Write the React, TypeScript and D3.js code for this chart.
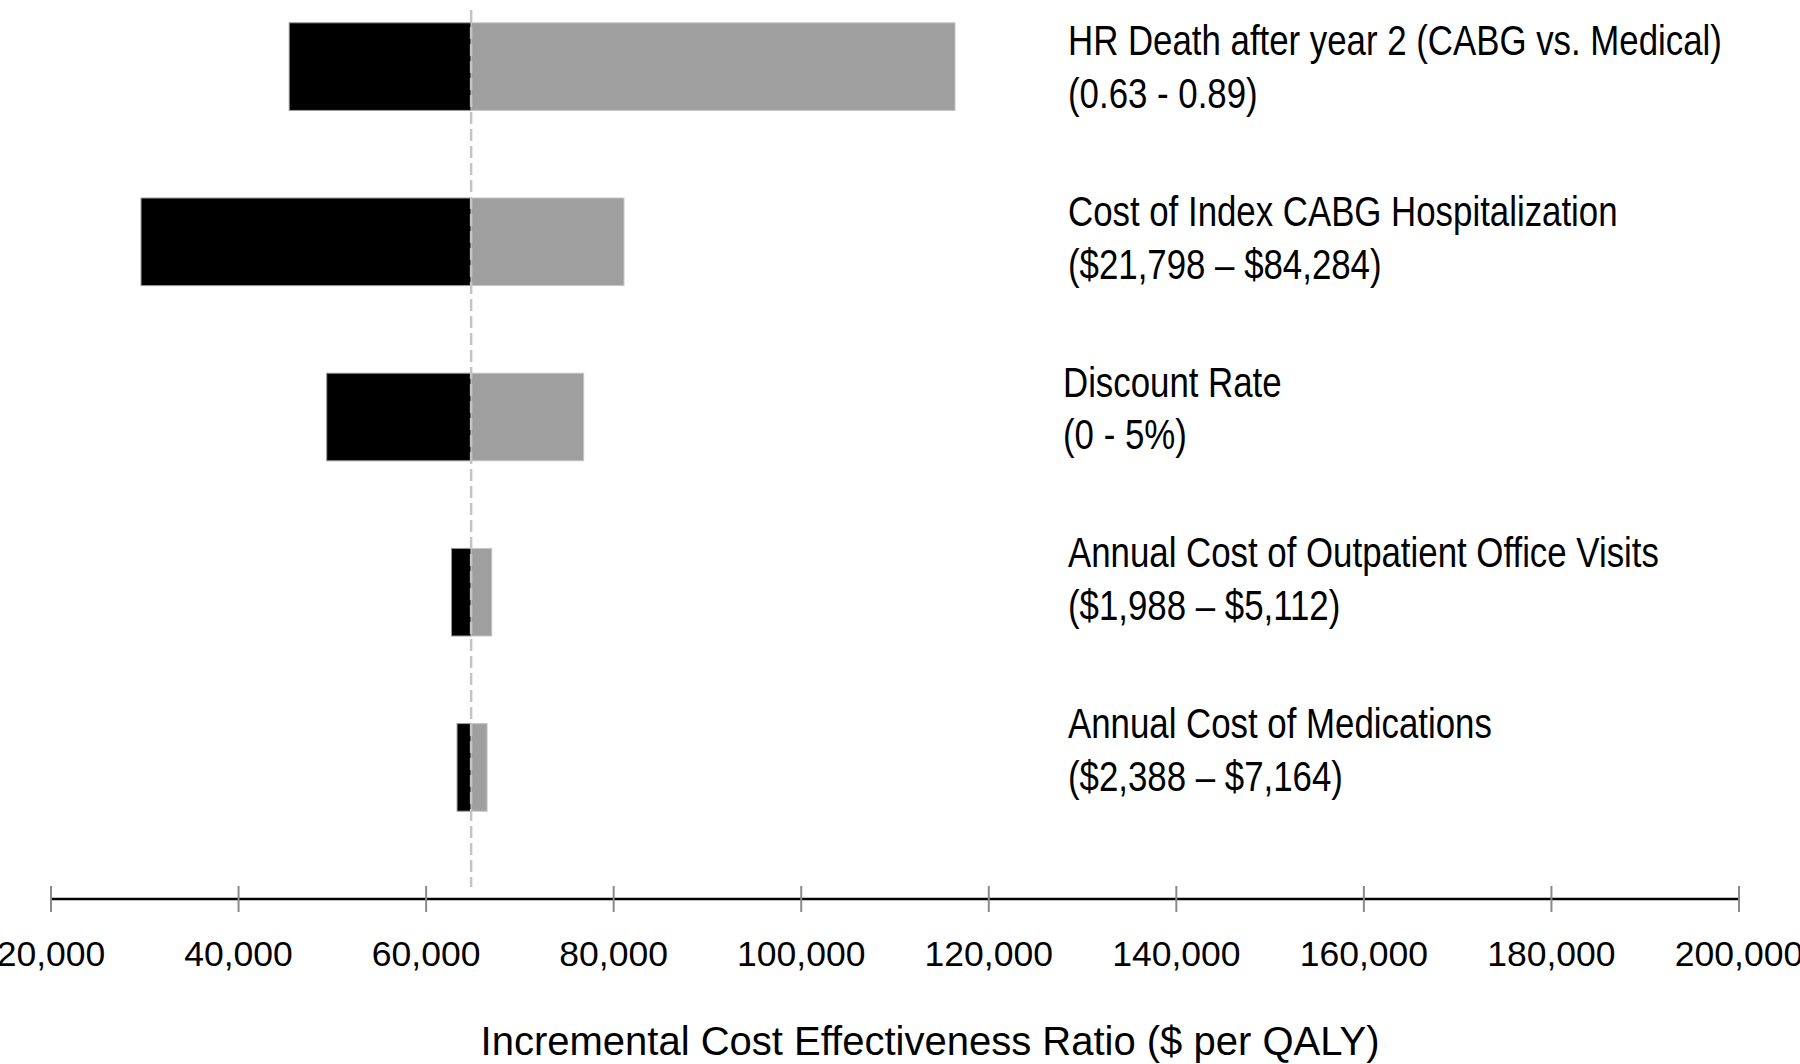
import React from "react";
import * as d3 from "d3";

const categories = ["hr", "cabg", "discount", "office", "meds"];
const labelLine1 = [
  "HR Death after year 2 (CABG vs. Medical)",
  "Cost of Index CABG Hospitalization",
  "Discount Rate",
  "Annual Cost of Outpatient Office Visits",
  "Annual Cost of Medications",
];
const labelLine2 = [
  "(0.63 - 0.89)",
  "($21,798 \u2013 $84,284)",
  "(0 - 5%)",
  "($1,988 \u2013 $5,112)",
  "($2,388 \u2013 $7,164)",
];
const baseValue = 64800;
const lowValues = [45400, 29600, 49400, 62700, 63300];
const highValues = [116400, 81100, 76800, 67000, 66500];
const tickValues = [20000, 40000, 60000, 80000, 100000, 120000, 140000, 160000, 180000, 200000];
const axisTitle = "Incremental Cost Effectiveness Ratio ($ per QALY)";

const W = 1800;
const H = 1064;
const FONT = "'Liberation Sans', Arial, Helvetica, sans-serif";

export default function App() {
  const x = d3.scaleLinear().domain([20000, 200000]).range([51, 1739]);
  const y = d3
    .scaleBand<string>()
    .domain(categories)
    .range([-21, 855])
    .paddingInner(0.5)
    .paddingOuter(0.25);
  const labelY = d3.scalePoint<string>().domain(categories).range([55, 738]);
  const fmt = d3.format(",");
  const axisY = 899;
  const xb = x(baseValue);

  return (
    <svg
      width={W}
      height={H}
      style={{ position: "absolute", left: 0, top: 0, background: "#fff" }}
      fontFamily={FONT}
    >
      <rect x={0} y={0} width={W} height={H} fill="#fff" />
      {categories.map((c, i) => {
        const y0 = y(c) as number;
        const bh = y.bandwidth();
        const xl = x(lowValues[i]);
        const xh = x(highValues[i]);
        return (
          <g key={c}>
            <rect x={xl} y={y0} width={xb - xl} height={bh} fill="#000" stroke="#9a9a9a" strokeWidth={1} />
            <rect x={xb} y={y0} width={xh - xb} height={bh} fill="#9f9f9f" stroke="#c6c6c6" strokeWidth={1} />
          </g>
        );
      })}
      <line
        x1={xb}
        x2={xb}
        y1={10}
        y2={887}
        stroke="#c4c4c4"
        strokeWidth={2.5}
        strokeDasharray="12,5"
      />
      {categories.map((c, i) => {
        const ly = labelY(c) as number;
        const lx = i === 2 ? 1063 : 1068;
        return (
          <g key={"l" + c} transform={`translate(${lx},${ly}) scale(0.81,1)`}>
            <text x={0} y={0} fontSize={43} fill="#000">
              {labelLine1[i]}
            </text>
            <text x={0} y={53} fontSize={43} fill="#000">
              {labelLine2[i]}
            </text>
          </g>
        );
      })}
      <line x1={x(20000)} x2={x(200000)} y1={axisY} y2={axisY} stroke="#000" strokeWidth={2.6} />
      {tickValues.map((t) => (
        <g key={t}>
          <line x1={x(t)} x2={x(t)} y1={axisY - 13} y2={axisY + 13} stroke="#8a8a8a" strokeWidth={2} />
          <text x={x(t)} y={966} fontSize={35.5} textAnchor="middle" fill="#000">
            {fmt(t)}
          </text>
        </g>
      ))}
      <text x={930} y={1055} fontSize={40} textAnchor="middle" fill="#000">
        {axisTitle}
      </text>
    </svg>
  );
}
